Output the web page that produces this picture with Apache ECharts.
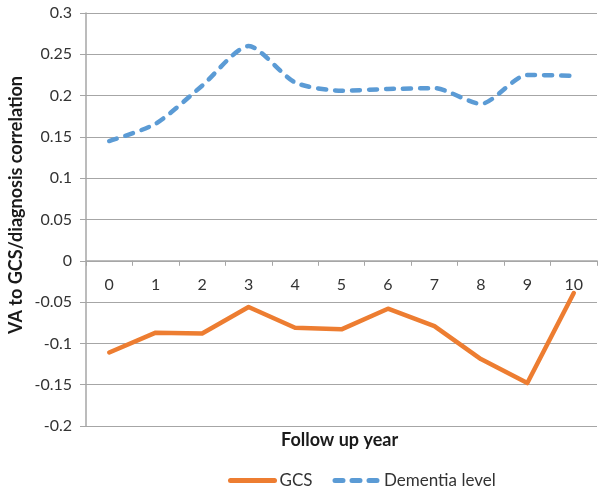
<!DOCTYPE html>
<html>
<head>
<meta charset="utf-8">
<script src="https://cdn.jsdelivr.net/npm/echarts@6/dist/echarts.min.js"></script>
<style>html,body{margin:0;padding:0;background:#fff}#c{width:604px;height:488px}</style>
</head>
<body>
<div id="c"></div>
<script>
const years = ['0','1','2','3','4','5','6','7','8','9','10'];
const gcs = [-0.111, -0.087, -0.088, -0.056, -0.081, -0.083, -0.058, -0.079, -0.119, -0.148, -0.039];
const dementia = [0.145, 0.166, 0.212, 0.260, 0.216, 0.206, 0.208, 0.209, 0.190, 0.225, 0.224];
const yTicks = { min: -0.2, max: 0.3, interval: 0.05 };
const xTitle = 'Follow up year';
const yTitle = 'VA to GCS/diagnosis correlation';

const FONT = 'Lato';
const GRID = { left: 86, right: 7, top: 13, bottom: 62 };
const plotH = 488 - GRID.top - GRID.bottom;
const zeroOffset = -plotH * (0 - yTicks.min) / (yTicks.max - yTicks.min);

const chart = echarts.init(document.getElementById('c'), null, {renderer: 'canvas'});
chart.setOption({
  animation: false,
  backgroundColor: '#fff',
  textStyle: { fontFamily: FONT },
  grid: Object.assign({ containLabel: false }, GRID),
  title: {
    text: xTitle, left: 281, top: 431, padding: 0,
    textStyle: { fontFamily: FONT, fontSize: 18, fontWeight: 'bold', color: '#1a1a1a' }
  },
  graphic: [{
    type: 'text', x: 16, y: 205, rotation: Math.PI / 2,
    style: { text: yTitle, fontFamily: FONT, fontSize: 18, fontWeight: 'bold', fill: '#1a1a1a',
             align: 'center', verticalAlign: 'middle' }
  }],
  legend: {
    left: 223, top: 467, itemWidth: 44, itemHeight: 14, itemGap: 20,
    itemStyle: { opacity: 0 },
    lineStyle: { width: 5 },
    textStyle: { fontFamily: FONT, fontSize: 17, color: '#333' },
    data: ['GCS', 'Dementia level']
  },
  xAxis: {
    type: 'category', data: years, boundaryGap: true, position: 'bottom',
    offset: zeroOffset,
    axisLine: { onZero: false, lineStyle: { color: '#a6a6a6', width: 1.5 } },
    axisTick: { show: true, length: 5, lineStyle: { color: '#a6a6a6' } },
    axisLabel: { fontSize: 16, color: '#333', margin: 16, fontFamily: FONT },
    splitLine: { show: false }
  },
  yAxis: {
    type: 'value', min: yTicks.min, max: yTicks.max, interval: yTicks.interval,
    axisLine: { show: true, lineStyle: { color: '#a6a6a6', width: 1.5 } },
    axisTick: { show: true, length: 6, lineStyle: { color: '#a6a6a6' } },
    axisLabel: { fontSize: 16, color: '#333', margin: 14, fontFamily: FONT,
                 formatter: v => String(parseFloat(v.toFixed(2))) },
    splitLine: { show: true, lineStyle: { color: '#a6a6a6', width: 1.2 } }
  },
  series: [
    { name: 'GCS', type: 'line', data: gcs, symbol: 'none', smooth: false,
      itemStyle: { color: '#ED7D31' },
      lineStyle: { color: '#ED7D31', width: 4.5, cap: 'round', join: 'round' } },
    { name: 'Dementia level', type: 'line', data: dementia, symbol: 'none', smooth: 0.25,
      itemStyle: { color: '#5B9BD5' },
      lineStyle: { color: '#5B9BD5', width: 4.5, type: [8, 9], cap: 'round', join: 'round' } }
  ]
});
</script>
</body>
</html>
